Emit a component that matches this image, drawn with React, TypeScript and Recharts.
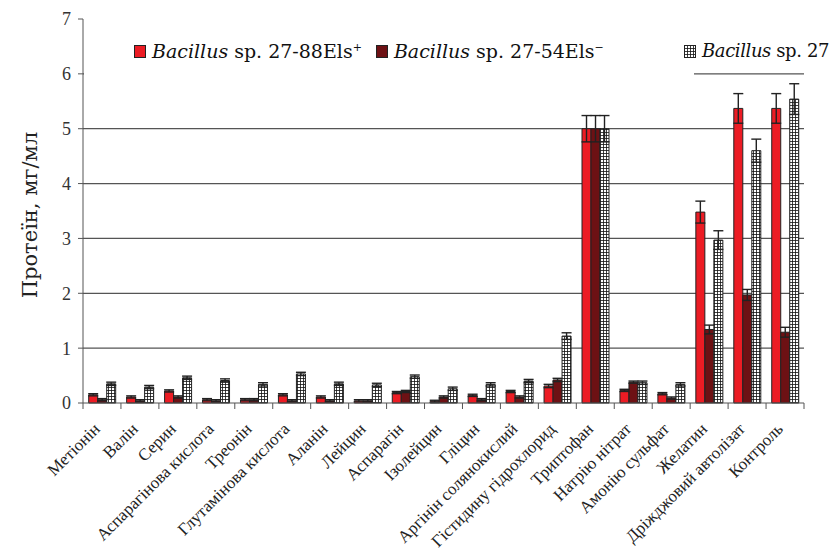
import React from "react";
import { Bar, BarChart, CartesianGrid, ErrorBar, Label, Legend, XAxis, YAxis } from "recharts";

const categories = [
  "Метіонін",
  "Валін",
  "Серин",
  "Аспарагінова кислота",
  "Треонін",
  "Глутамінова кислота",
  "Аланін",
  "Лейцин",
  "Аспарагін",
  "Ізолейцин",
  "Гліцин",
  "Аргінін солянокислий",
  "Гістидину гідрохлорид",
  "Триптофан",
  "Натрію нітрат",
  "Амонію сульфат",
  "Желатин",
  "Дріжджовий автолізат",
  "Контроль",
];

const strain88 = [0.15, 0.11, 0.22, 0.06, 0.06, 0.15, 0.11, 0.04, 0.19, 0.03, 0.14, 0.21, 0.31, 5.0, 0.23, 0.17, 3.48, 5.37, 5.37];
const strain54 = [0.06, 0.04, 0.11, 0.04, 0.06, 0.04, 0.04, 0.04, 0.21, 0.11, 0.06, 0.11, 0.42, 5.0, 0.38, 0.09, 1.34, 1.97, 1.29];
const strain27 = [0.35, 0.29, 0.46, 0.41, 0.34, 0.53, 0.35, 0.33, 0.48, 0.26, 0.34, 0.4, 1.22, 5.0, 0.37, 0.34, 2.97, 4.6, 5.54];

const err88 = [0.02, 0.02, 0.02, 0.02, 0.02, 0.02, 0.02, 0.02, 0.02, 0.02, 0.02, 0.02, 0.03, 0.24, 0.02, 0.02, 0.2, 0.27, 0.27];
const err54 = [0.02, 0.02, 0.02, 0.02, 0.02, 0.02, 0.02, 0.02, 0.02, 0.02, 0.02, 0.02, 0.03, 0.24, 0.02, 0.02, 0.08, 0.1, 0.09];
const err27 = [0.03, 0.03, 0.03, 0.03, 0.03, 0.03, 0.03, 0.03, 0.03, 0.03, 0.03, 0.03, 0.06, 0.24, 0.03, 0.03, 0.17, 0.21, 0.28];

const yTicks = [0, 1, 2, 3, 4, 5, 6, 7];
const gridValues = [1, 2, 3, 4, 5, 6];

const data = categories.map((name, i) => ({
  name,
  s88: strain88[i],
  s54: strain54[i],
  s27: strain27[i],
  e88: err88[i],
  e54: err54[i],
  e27: err27[i],
}));

const W = 834;
const H = 553;
const Y_W = 83;
const RIGHT = 30;
const TOP = 19;
const X_H = 150;
const STEP = (W - Y_W - RIGHT) / categories.length;

const RED = "#ec1c24";
const DARK = "#6d1114";
const LINE = "#222";
const TIMES = "'Liberation Serif', 'Times New Roman', serif";
const CENTURY = "'DejaVu Serif', serif";

function XTick(props: any) {
  const { x, y, payload, index } = props;
  const ay = y - 6;
  const left = x - STEP / 2;
  const tx = x - 1;
  const ty = ay + 27;
  return (
    <g>
      <line x1={left} y1={ay} x2={left} y2={ay + 6} stroke="#555" />
      {index === categories.length - 1 && (
        <line x1={x + STEP / 2} y1={ay} x2={x + STEP / 2} y2={ay + 6} stroke="#555" />
      )}
      <text
        x={tx}
        y={ty}
        textAnchor="end"
        transform={`rotate(-45 ${tx} ${ty})`}
        fontFamily={TIMES}
        fontSize={17}
        fill="#222"
      >
        {payload.value}
      </text>
    </g>
  );
}

function Marker({ fill }: { fill: string }) {
  return (
    <svg width={12} height={13} style={{ marginRight: 6, flex: "none" }}>
      <rect x={0.5} y={0.5} width={11} height={12} fill={fill} stroke={LINE} />
    </svg>
  );
}

function ChartLegend() {
  const text: React.CSSProperties = {
    fontFamily: CENTURY,
    fontSize: 19,
    color: "#111",
    whiteSpace: "nowrap",
    lineHeight: "24px",
  };
  const sup: React.CSSProperties = { fontSize: 11, verticalAlign: "super", lineHeight: 0 };
  return (
    <div style={{ position: "relative", width: W, height: 45 }}>
      <div style={{ position: "absolute", left: Y_W + 1, top: 0, width: 610, height: 45, background: "#fff" }} />
      <div style={{ position: "absolute", left: 134, top: 6, display: "flex", alignItems: "center" }}>
        <Marker fill={RED} />
        <span style={text}>
          <i>Bacillus</i> sp. 27-88Els<span style={sup}>+</span>
        </span>
        <span style={{ width: 14 }} />
        <Marker fill={DARK} />
        <span style={text}>
          <i>Bacillus</i> sp. 27-54Els<span style={sup}>−</span>
        </span>
      </div>
      <div style={{ position: "absolute", left: 684, top: 6, display: "flex", alignItems: "center" }}>
        <Marker fill="url(#hatch)" />
        <span style={{ ...text, fontSize: 18, letterSpacing: -0.4 }}>
          <i>Bacillus</i> sp. 27
        </span>
      </div>
    </div>
  );
}

export default function App() {
  return (
    <div style={{ position: "absolute", left: 0, top: 0, width: W, height: H, overflow: "hidden", background: "#fff" }}>
      <svg width={0} height={0} style={{ position: "absolute" }}>
        <defs>
          <pattern id="hatch" patternUnits="userSpaceOnUse" width={3} height={3}>
            <rect width={3} height={3} fill="#fff" />
            <path d="M0 0.4H3M0.4 0V3" stroke="#111" strokeWidth={0.9} />
          </pattern>
        </defs>
      </svg>
      <BarChart
        width={W}
        height={H}
        data={data}
        margin={{ top: TOP, right: RIGHT, left: 0, bottom: 0 }}
        barCategoryGap="15%"
        barGap={0}
      >
        <CartesianGrid vertical={false} horizontalValues={gridValues} stroke="#555" strokeWidth={1.2} />
        <XAxis
          dataKey="name"
          height={X_H}
          interval={0}
          tickLine={false}
          tickSize={6}
          tickMargin={0}
          axisLine={{ stroke: "#555" }}
          tick={<XTick />}
        />
        <YAxis
          width={Y_W}
          domain={[0, 7]}
          ticks={yTicks}
          interval={0}
          tickSize={5}
          tickMargin={7}
          axisLine={{ stroke: "#555" }}
          tickLine={{ stroke: "#555" }}
          tick={{ fontFamily: TIMES, fontSize: 18, fill: "#333" }}
        >
          <Label
            content={() => {
              const cx = 30;
              const cy = (TOP + (H - X_H)) / 2 + 4;
              return (
                <text
                  x={cx}
                  y={cy}
                  textAnchor="middle"
                  dominantBaseline="central"
                  transform={`rotate(-90 ${cx} ${cy})`}
                  fontFamily={CENTURY}
                  fontSize={21}
                  fill="#222"
                >
                  Протеїн, мг/мл
                </text>
              );
            }}
          />
        </YAxis>
        <Legend
          layout="horizontal"
          verticalAlign="middle"
          align="center"
          wrapperStyle={{ top: 33, left: 0, width: W }}
          content={<ChartLegend />}
        />
        <Bar dataKey="s88" fill={RED} stroke={LINE} strokeWidth={1} isAnimationActive={false}>
          <ErrorBar dataKey="e88" width={5} stroke={LINE} strokeWidth={1.4} direction="y" />
        </Bar>
        <Bar dataKey="s54" fill={DARK} stroke={LINE} strokeWidth={1} isAnimationActive={false}>
          <ErrorBar dataKey="e54" width={5} stroke={LINE} strokeWidth={1.4} direction="y" />
        </Bar>
        <Bar dataKey="s27" fill="url(#hatch)" stroke={LINE} strokeWidth={1} isAnimationActive={false}>
          <ErrorBar dataKey="e27" width={5} stroke={LINE} strokeWidth={1.4} direction="y" />
        </Bar>
      </BarChart>
    </div>
  );
}
